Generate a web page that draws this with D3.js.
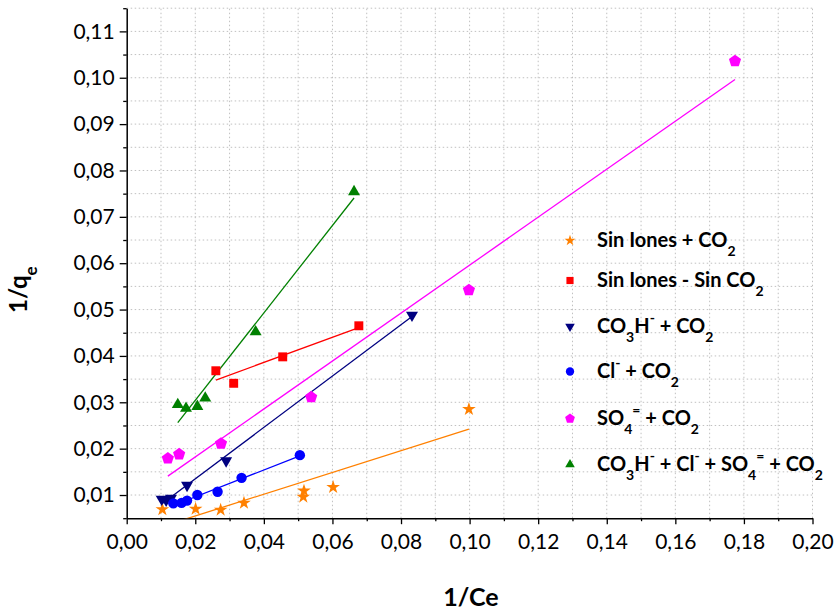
<!DOCTYPE html>
<html>
<head>
<meta charset="utf-8">
<script src="https://cdn.jsdelivr.net/npm/d3@7"></script>
<style>
  html, body { margin: 0; padding: 0; background: #fff; }
  svg { display: block; }
  text { font-family: Lato, "Open Sans", sans-serif; }
</style>
</head>
<body>
<svg id="chart" width="837" height="613"></svg>
<script>
// ---- data ----
const sinIonesCO2_x = [0.0104, 0.0201, 0.0274, 0.0342, 0.0515, 0.0517, 0.0602, 0.0998];
const sinIonesCO2_y = [0.0069, 0.0070, 0.0068, 0.0083, 0.0096, 0.0109, 0.0117, 0.0285];

const sinIonesSinCO2_x = [0.0260, 0.0312, 0.0455, 0.0677];
const sinIonesSinCO2_y = [0.0368, 0.0341, 0.0398, 0.0465];

const co3hCO2_x = [0.0102, 0.0115, 0.0129, 0.0176, 0.0290, 0.0832];
const co3hCO2_y = [0.0091, 0.0089, 0.0093, 0.0121, 0.0174, 0.0488];

const clCO2_x = [0.0136, 0.0160, 0.0176, 0.0206, 0.0265, 0.0335, 0.0505];
const clCO2_y = [0.0082, 0.0083, 0.0088, 0.0100, 0.0107, 0.0137, 0.0186];

const so4CO2_x = [0.0120, 0.0153, 0.0275, 0.0538, 0.0998, 0.1774];
const so4CO2_y = [0.0179, 0.0188, 0.0211, 0.0311, 0.0542, 0.1036];

const mixCO2_x = [0.0149, 0.0173, 0.0206, 0.0229, 0.0376, 0.0663];
const mixCO2_y = [0.0295, 0.0287, 0.0291, 0.0309, 0.0452, 0.0754];

const xTickValues = [0, 0.02, 0.04, 0.06, 0.08, 0.10, 0.12, 0.14, 0.16, 0.18, 0.20];
const yTickValues = [0.01, 0.02, 0.03, 0.04, 0.05, 0.06, 0.07, 0.08, 0.09, 0.10, 0.11];

// legend label pieces: [text, mode] mode: n normal, b sub, p sup
const legendLabels = [
  [["Sin Iones + CO","n"],["2","b"]],
  [["Sin Iones - Sin CO","n"],["2","b"]],
  [["CO","n"],["3","b"],["H","n"],["-","p"],[" + CO","n"],["2","b"]],
  [["Cl","n"],["-","p"],[" + CO","n"],["2","b"]],
  [["SO","n"],["4","b"],["=","p"],[" + CO","n"],["2","b"]],
  [["CO","n"],["3","b"],["H","n"],["-","p"],[" + Cl","n"],["-","p"],[" + SO","n"],["4","b"],["=","p"],[" + CO","n"],["2","b"]]
];

const series = [
  { xs: sinIonesCO2_x, ys: sinIonesCO2_y, color: "#FF8000", marker: "star" },
  { xs: sinIonesSinCO2_x, ys: sinIonesSinCO2_y, color: "#FF0000", marker: "square" },
  { xs: co3hCO2_x, ys: co3hCO2_y, color: "#000080", marker: "triDown" },
  { xs: clCO2_x, ys: clCO2_y, color: "#0000FF", marker: "circle" },
  { xs: so4CO2_x, ys: so4CO2_y, color: "#FF00FF", marker: "pentagon" },
  { xs: mixCO2_x, ys: mixCO2_y, color: "#008000", marker: "triUp" }
];

// ---- layout ----
const svg = d3.select("#chart");
const x = d3.scaleLinear().domain([0, 0.2]).range([126.7, 812.5]);
const y = d3.scaleLinear().domain([0.005, 0.115]).range([518.2, 8.2]);
const fmt = d => d3.format(".2f")(d).replace(".", ",");

// grid
const gridX = d3.range(1, 21).map(i => i * 0.01);
const gridY = d3.range(1, 23).map(i => 0.005 + i * 0.005);
const grid = svg.append("g");
grid.selectAll("line.gx").data(gridX).join("line")
  .attr("x1", d => x(d)).attr("x2", d => x(d))
  .attr("y1", y(0.005)).attr("y2", y(0.115))
  .attr("stroke", "#c0c0c0").attr("stroke-width", 1).attr("stroke-dasharray", "1.5,2.5");
grid.selectAll("line.gy").data(gridY).join("line")
  .attr("y1", d => y(d)).attr("y2", d => y(d))
  .attr("x1", x(0)).attr("x2", x(0.2))
  .attr("stroke", "#c0c0c0").attr("stroke-width", 1).attr("stroke-dasharray", "1.5,2.5");

// clip
svg.append("clipPath").attr("id", "plotClip").append("rect")
  .attr("x", x(0)).attr("y", y(0.115)).attr("width", x(0.2) - x(0)).attr("height", y(0.005) - y(0.115));

// axes
const xMinor = d3.range(0, 10).map(i => 0.01 + i * 0.02);
const yMinor = d3.range(0, 12).map(i => 0.005 + i * 0.01);

const gx = svg.append("g").attr("transform", `translate(0,${y(0.005)})`);
gx.call(d3.axisBottom(x).tickValues(xTickValues).tickFormat(fmt).tickSize(6).tickPadding(10).tickSizeOuter(0));
gx.append("g").call(d3.axisBottom(x).tickValues(xMinor).tickFormat("").tickSize(3).tickSizeOuter(0))
  .select(".domain").remove();
const gy = svg.append("g").attr("transform", `translate(${x(0)},0)`);
gy.call(d3.axisLeft(y).tickValues(yTickValues).tickFormat(fmt).tickSize(7).tickPadding(5).tickSizeOuter(0));
gy.append("g").call(d3.axisLeft(y).tickValues(yMinor).tickFormat("").tickSize(3.5).tickSizeOuter(0))
  .select(".domain").remove();

svg.selectAll(".tick text").attr("font-size", 21).attr("font-family", "Lato").attr("fill", "#000");
svg.selectAll(".domain").attr("stroke", "#000").attr("stroke-width", 1.5);
svg.selectAll(".tick line").attr("stroke", "#000").attr("stroke-width", 1.3);

// titles
svg.append("text").attr("x", 471).attr("y", 606).attr("text-anchor", "middle")
  .attr("font-size", 25).attr("font-weight", "bold").text("1/Ce");
const yt = svg.append("text").attr("transform", "translate(27,313) rotate(-90)")
  .attr("text-anchor", "start").attr("font-size", 24).attr("font-weight", "bold");
yt.append("tspan").text("1/q");
yt.append("tspan").attr("dy", 10).attr("font-size", 17).text("e");

// markers
function markerPath(type, s) {
  if (type === "star") return d3.symbol(d3.symbolStar, 58 * s * s)();
  if (type === "square") return d3.symbol(d3.symbolSquare, 80 * s * s)();
  if (type === "circle") return d3.symbol(d3.symbolCircle, 85 * s * s)();
  if (type === "triUp" || type === "triDown") {
    const side = 12 * s, h = side * Math.sqrt(3) / 2;
    const sign = type === "triUp" ? 1 : -1;
    return `M0,${-sign * 2 * h / 3}L${side / 2},${sign * h / 3}L${-side / 2},${sign * h / 3}Z`;
  }
  if (type === "pentagon") {
    const r = 6.4 * s;
    const pts = d3.range(5).map(i => {
      const a = -Math.PI / 2 + i * 2 * Math.PI / 5;
      return [r * Math.cos(a), r * Math.sin(a)];
    });
    return "M" + pts.map(p => p.join(",")).join("L") + "Z";
  }
}

// fit lines (least squares through each series)
function fit(xs, ys) {
  const mx = d3.mean(xs), my = d3.mean(ys);
  let sxy = 0, sxx = 0;
  xs.forEach((v, i) => { sxy += (v - mx) * (ys[i] - my); sxx += (v - mx) * (v - mx); });
  const b = sxy / sxx, a = my - b * mx;
  const x0 = d3.min(xs), x1 = d3.max(xs);
  return [[x0, a + b * x0], [x1, a + b * x1]];
}
const lineGen = d3.line().x(d => x(d[0])).y(d => y(d[1]));
const linesG = svg.append("g").attr("clip-path", "url(#plotClip)");
series.forEach(s => {
  linesG.append("path").attr("d", lineGen(fit(s.xs, s.ys)))
    .attr("fill", "none").attr("stroke", s.color).attr("stroke-width", 1.3);
});

const ptsG = svg.append("g");
series.forEach(s => {
  const pts = s.xs.map((v, i) => [v, s.ys[i]]);
  ptsG.append("g").selectAll("path").data(pts).join("path")
    .attr("transform", d => `translate(${x(d[0])},${y(d[1])})`)
    .attr("d", markerPath(s.marker, 1))
    .attr("fill", s.color);
});

// legend
const legendBase = [247, 287, 333, 378, 425, 471];
const lg = svg.append("g");
series.forEach((s, i) => {
  const by = legendBase[i];
  lg.append("path").attr("transform", `translate(570,${by - 6.5})`)
    .attr("d", markerPath(s.marker, 0.8)).attr("fill", s.color);
  const t = lg.append("text").attr("x", 597).attr("y", by)
    .attr("font-size", 20).attr("font-weight", "bold").attr("fill", "#000");
  let shift = 0;
  legendLabels[i].forEach(([txt, mode]) => {
    const target = mode === "b" ? 9 : (mode === "p" ? -10 : 0);
    const ts = t.append("tspan").attr("dy", target - shift).text(txt);
    if (mode !== "n") ts.attr("font-size", 14);
    shift = target;
  });
});
</script>
</body>
</html>
